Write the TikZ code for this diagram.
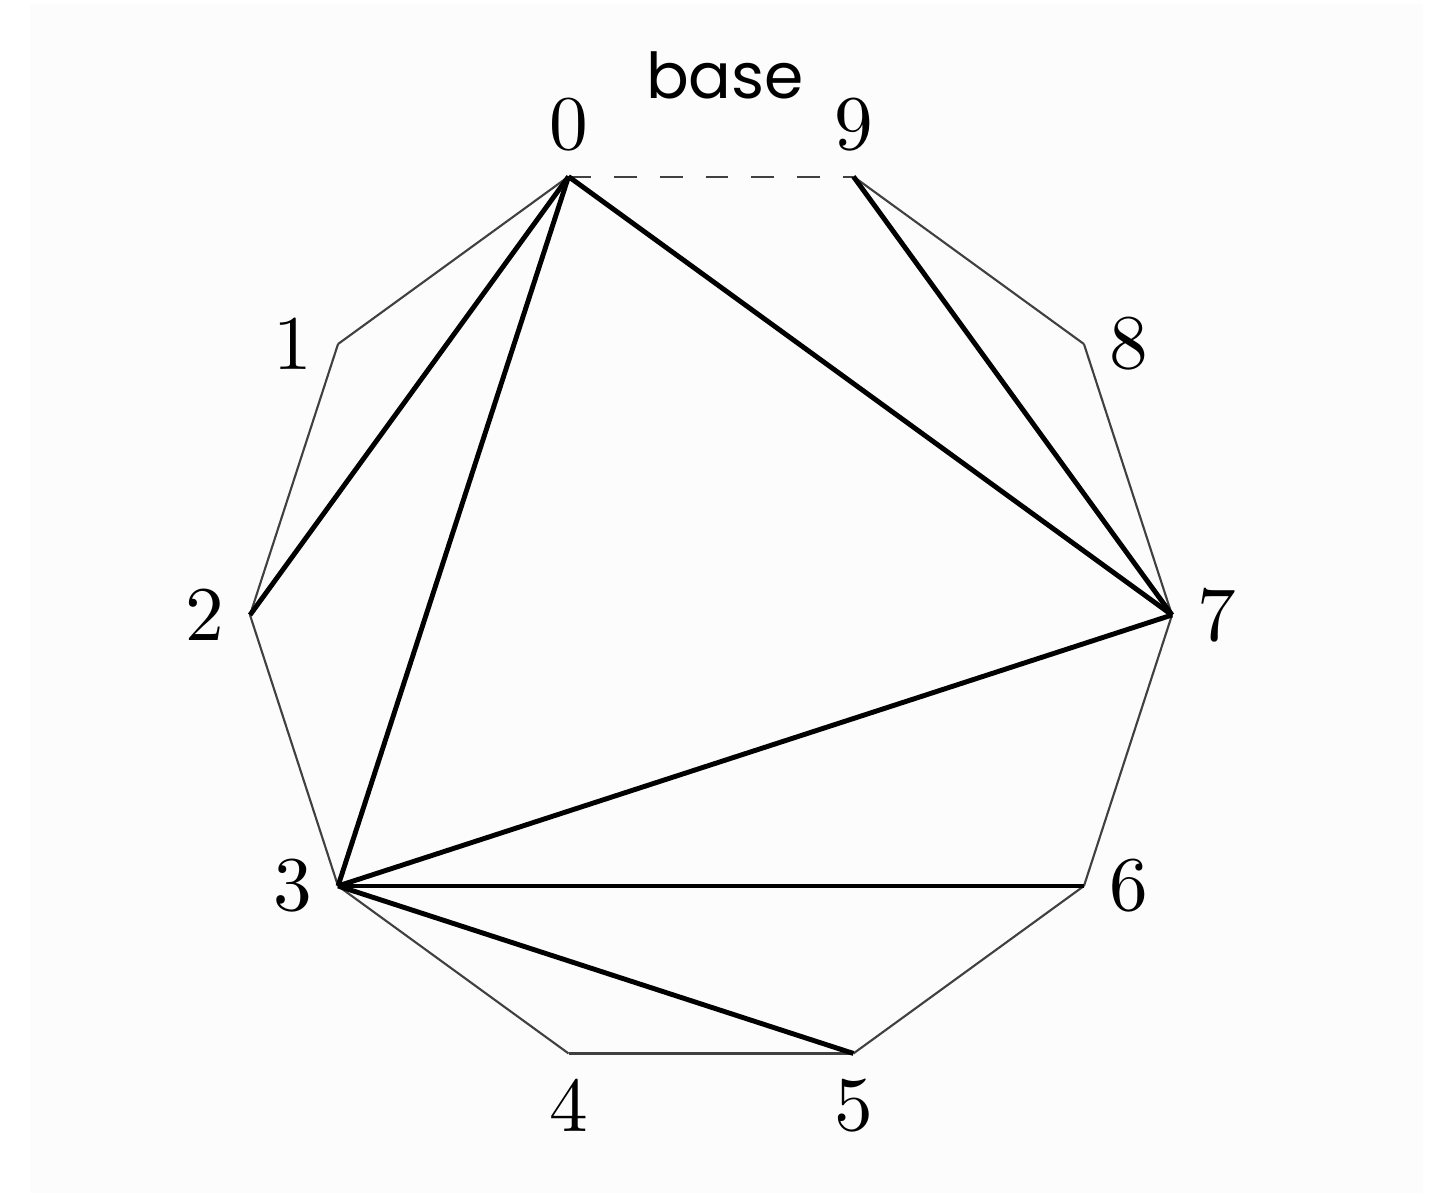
\documentclass[tikz,border=0pt]{standalone}
\usepackage{fontspec}
\newfontfamily\basefont{Poppins}
\newfontfamily\numfont{lmroman10-regular.otf}
\usepackage{tikz}

\begin{document}
\begin{tikzpicture}[
  side/.style={black!75, line width=0.6pt},
  chord/.style={black, line width=1.4pt},
  vlabel/.style={font=\numfont\fontsize{22}{26}\selectfont, inner sep=0pt, label distance=0.25cm}
]
\fill[black!1] (-6.810,-5.780) rectangle (7.120,6.110);
\useasboundingbox (-7.110,-5.820) rectangle (7.300,6.150);
% vertices of the decagon
\foreach \i/\pos in {0/above,1/left,2/left,3/left,4/below,5/below,6/right,7/right,8/right,9/above}
  \coordinate[label={[vlabel]\pos:\i}] (v\i) at ({108+36*\i}:4.610);
% sides
\foreach \i [evaluate=\i as \j using int(\i+1)] in {0,...,8}
  \draw[side] (v\i) -- (v\j);
\draw[side, dash pattern=on 6.5pt off 6.5pt] (v0) -- (v9);
\node[font=\basefont\fontsize{18}{22}\selectfont] (base) at (0.140,5.400) {base};
% triangulation
\draw[chord] (v0) -- (v2);
\draw[chord] (v0) -- (v3);
\draw[chord] (v0) -- (v7);
\draw[chord] (v9) -- (v7);
\draw[chord] (v3) -- (v7);
\draw[chord] (v3) -- (v6);
\draw[chord] (v3) -- (v5);
\end{tikzpicture}
\end{document}
